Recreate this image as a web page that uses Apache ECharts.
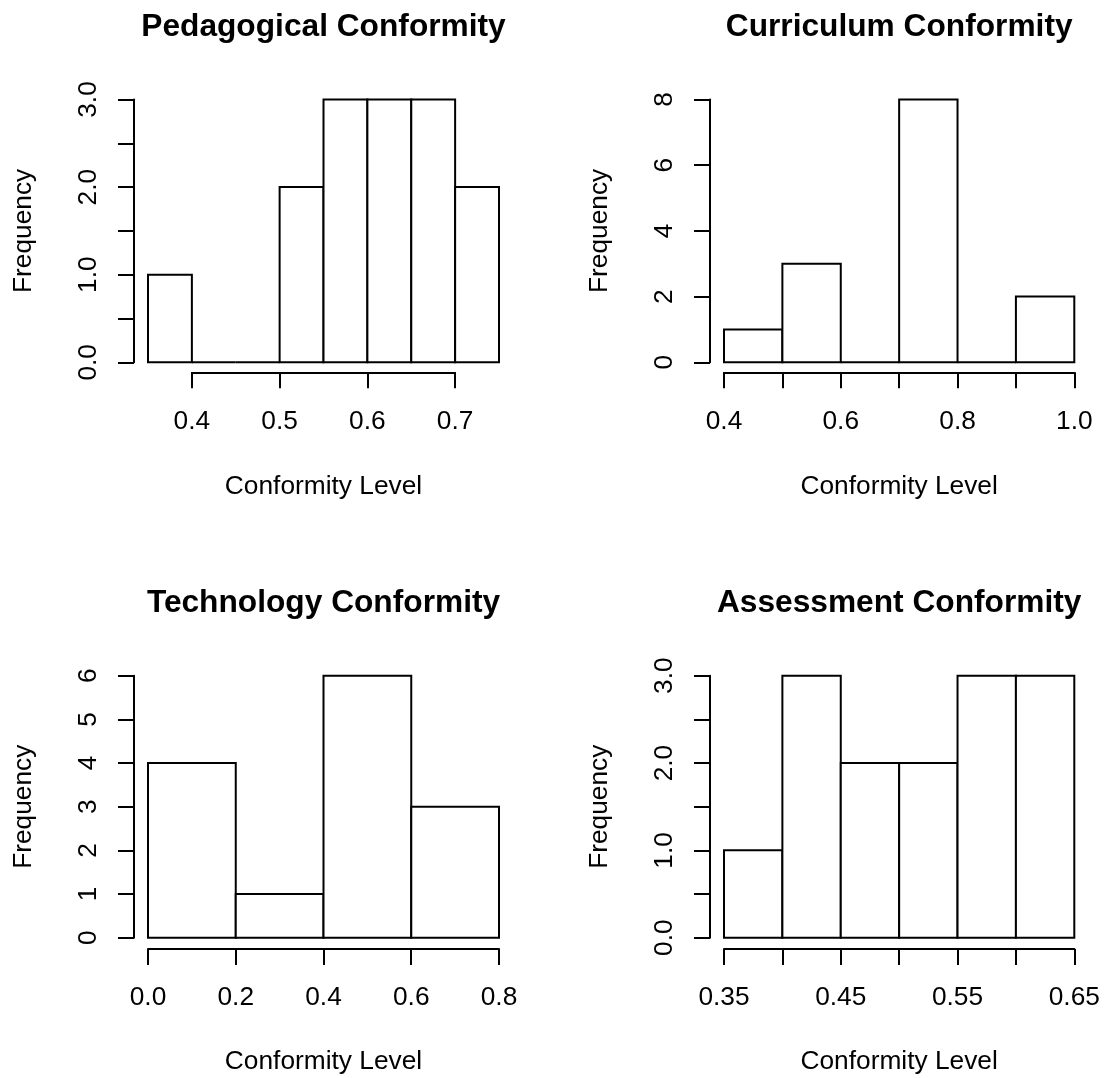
<!DOCTYPE html>
<html><head><meta charset="utf-8">
<script src="https://cdn.jsdelivr.net/npm/echarts@6/dist/echarts.min.js"></script>
<style>html,body{margin:0;padding:0;background:#fff}#c{width:1105px;height:1078px}</style>
</head><body><div id="c"></div>
<script>
// ---------- data ----------
const panelTitles = ['Pedagogical Conformity', 'Curriculum Conformity', 'Technology Conformity', 'Assessment Conformity'];
const xAxisTitle = 'Conformity Level';
const yAxisTitle = 'Frequency';

const pedBreaks = [0.35, 0.40, 0.45, 0.50, 0.55, 0.60, 0.65, 0.70, 0.75];
const pedCounts = [1, 0, 0, 2, 3, 3, 3, 2];
const pedXTicks = [0.4, 0.5, 0.6, 0.7];
const pedXLabels = ['0.4', '0.5', '0.6', '0.7'];
const pedYTicks = [0, 0.5, 1, 1.5, 2, 2.5, 3];
const pedYLabels = ['0.0', '', '1.0', '', '2.0', '', '3.0'];

const curBreaks = [0.4, 0.5, 0.6, 0.7, 0.8, 0.9, 1.0];
const curCounts = [1, 3, 0, 8, 0, 2];
const curXTicks = [0.4, 0.5, 0.6, 0.7, 0.8, 0.9, 1.0];
const curXLabels = ['0.4', '', '0.6', '', '0.8', '', '1.0'];
const curYTicks = [0, 2, 4, 6, 8];
const curYLabels = ['0', '2', '4', '6', '8'];

const techBreaks = [0.0, 0.2, 0.4, 0.6, 0.8];
const techCounts = [4, 1, 6, 3];
const techXTicks = [0.0, 0.2, 0.4, 0.6, 0.8];
const techXLabels = ['0.0', '0.2', '0.4', '0.6', '0.8'];
const techYTicks = [0, 1, 2, 3, 4, 5, 6];
const techYLabels = ['0', '1', '2', '3', '4', '5', '6'];

const assBreaks = [0.35, 0.40, 0.45, 0.50, 0.55, 0.60, 0.65];
const assCounts = [1, 3, 2, 2, 3, 3];
const assXTicks = [0.35, 0.40, 0.45, 0.50, 0.55, 0.60, 0.65];
const assXLabels = ['0.35', '', '0.45', '', '0.55', '', '0.65'];
const assYTicks = [0, 0.5, 1, 1.5, 2, 2.5, 3];
const assYLabels = ['0.0', '', '1.0', '', '2.0', '', '3.0'];

// ---------- layout ----------
const FONT = 'Liberation Sans, Arial, Helvetica, sans-serif';
const TICK_FS = 26.3, NAME_FS = 26.3, TITLE_FS = 31.7;
const cols = [{left: 148, width: 351}, {left: 724, width: 350.3}];
const rows = [{top: 99.5, height: 262.8, xOff: 10}, {top: 675.7, height: 262, xOff: 11.3}];
const Y_OFF = 14, TICK_LEN = 16, LW = 2;

const panels = [
  {title: panelTitles[0], breaks: pedBreaks, counts: pedCounts, xt: pedXTicks, xl: pedXLabels, yt: pedYTicks, yl: pedYLabels, c: 0, r: 0},
  {title: panelTitles[1], breaks: curBreaks, counts: curCounts, xt: curXTicks, xl: curXLabels, yt: curYTicks, yl: curYLabels, c: 1, r: 0},
  {title: panelTitles[2], breaks: techBreaks, counts: techCounts, xt: techXTicks, xl: techXLabels, yt: techYTicks, yl: techYLabels, c: 0, r: 1},
  {title: panelTitles[3], breaks: assBreaks, counts: assCounts, xt: assXTicks, xl: assXLabels, yt: assYTicks, yl: assYLabels, c: 1, r: 1}
];

function lookup(ticks, labels, v) {
  for (let i = 0; i < ticks.length; i++) if (Math.abs(ticks[i] - v) < 1e-6) return labels[i];
  return '';
}

const grid = [], xAxis = [], yAxis = [], series = [], graphic = [];
const lineStyle = {color: '#000', width: LW};

panels.forEach((p, i) => {
  const col = cols[p.c], row = rows[p.r];
  const bMin = p.breaks[0], bMax = p.breaks[p.breaks.length - 1];
  const tMin = p.xt[0], tMax = p.xt[p.xt.length - 1];
  const xInt = p.xt[1] - p.xt[0];
  const yInt = p.yt[1] - p.yt[0];
  const yMax = p.yt[p.yt.length - 1];
  // bars grid
  const gBars = grid.length;
  grid.push({left: col.left, top: row.top, width: col.width, height: row.height, outerBoundsMode: 'none', containLabel: false});
  // axis grid (x axis spans only the tick range)
  const gAxis = grid.length;
  const aLeft = col.left + (tMin - bMin) / (bMax - bMin) * col.width;
  const aWidth = (tMax - tMin) / (bMax - bMin) * col.width;
  grid.push({left: aLeft, top: row.top, width: aWidth, height: row.height, outerBoundsMode: 'none', containLabel: false});

  // bars grid axes
  xAxis.push({gridIndex: gBars, type: 'value', min: bMin, max: bMax, show: true,
    axisLine: {show: false, onZero: false}, axisTick: {show: false}, axisLabel: {show: false}, splitLine: {show: false}});
  yAxis.push({gridIndex: gBars, type: 'value', min: 0, max: yMax, interval: yInt, offset: Y_OFF,
    axisLine: {show: true, onZero: false, lineStyle}, axisTick: {show: true, length: TICK_LEN, lineStyle},
    splitLine: {show: false},
    axisLabel: {show: true, rotate: 90, margin: 32, color: '#000', fontSize: TICK_FS, fontFamily: FONT,
      showMinLabel: true, showMaxLabel: true,
      formatter: v => lookup(p.yt, p.yl, v)}});
  // axis grid axes
  xAxis.push({gridIndex: gAxis, type: 'value', min: tMin, max: tMax, interval: xInt, offset: row.xOff,
    axisLine: {show: true, onZero: false, lineStyle}, axisTick: {show: true, length: TICK_LEN, lineStyle},
    splitLine: {show: false},
    axisLabel: {show: true, margin: 36, color: '#000', fontSize: TICK_FS, fontFamily: FONT,
      showMinLabel: true, showMaxLabel: true, hideOverlap: false,
      formatter: v => lookup(p.xt, p.xl, v)}});
  yAxis.push({gridIndex: gAxis, type: 'value', min: 0, max: yMax, show: false, axisLine: {onZero: false}});

  const data = p.counts.map((c, k) => [p.breaks[k], p.breaks[k + 1], c]);
  series.push({
    type: 'custom', xAxisIndex: xAxis.length - 2, yAxisIndex: yAxis.length - 2,
    data, encode: {x: [0, 1], y: 2}, clip: false, silent: true,
    renderItem: function (params, api) {
      const p0 = api.coord([api.value(0), 0]);
      const p1 = api.coord([api.value(1), api.value(2)]);
      return {type: 'rect', shape: {x: p0[0], y: p1[1], width: p1[0] - p0[0], height: p0[1] - p1[1]},
        style: {fill: '#fff', stroke: '#000', lineWidth: LW}};
    }
  });

  const cx = col.left + col.width / 2;
  graphic.push({type: 'text', x: cx, y: row.top - 72.5, silent: true,
    style: {text: p.title, align: 'center', verticalAlign: 'middle', font: 'bold ' + TITLE_FS + 'px ' + FONT, fill: '#000'}});
  graphic.push({type: 'text', x: cx, y: row.top + row.height + 124.5, silent: true,
    style: {text: xAxisTitle, align: 'center', verticalAlign: 'middle', font: NAME_FS + 'px ' + FONT, fill: '#000'}});
  graphic.push({type: 'text', x: col.left - 124, y: row.top + row.height / 2, rotation: Math.PI / 2, silent: true,
    style: {text: yAxisTitle, align: 'center', verticalAlign: 'middle', font: NAME_FS + 'px ' + FONT, fill: '#000'}});
});

const chart = echarts.init(document.getElementById('c'), null, {renderer: 'canvas'});
chart.setOption({backgroundColor: '#fff', animation: false, grid, xAxis, yAxis, series, graphic});
</script></body></html>
